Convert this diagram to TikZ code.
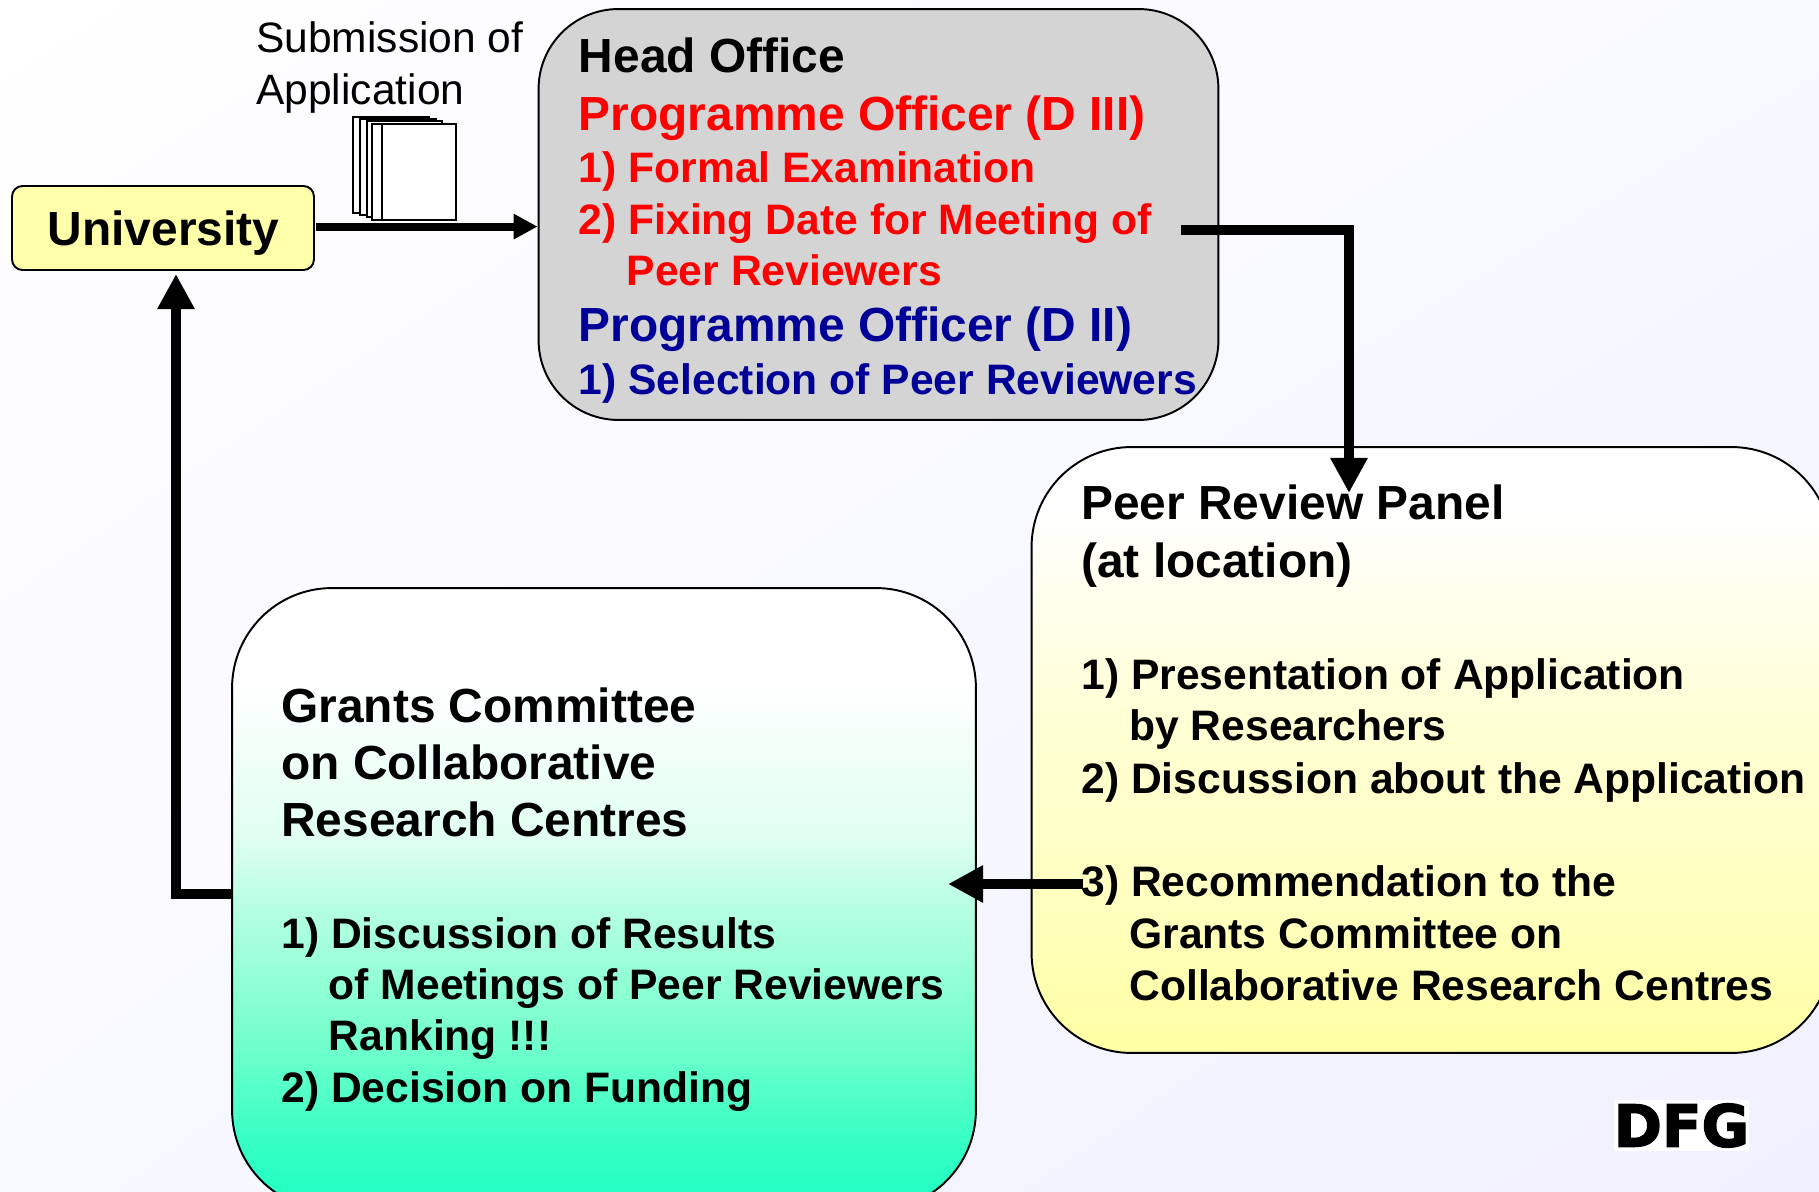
\documentclass[tikz,border=0pt]{standalone}
\usepackage{fontspec}
\setmainfont{Liberation Sans}
\newfontfamily\logofont[FakeBold=2.5]{DejaVu Sans Bold}
\usetikzlibrary{arrows.meta,shadings}
\definecolor{officered}{RGB}{255,0,0}
\definecolor{officeblue}{RGB}{0,0,153}
\definecolor{boxyellow}{RGB}{255,255,170}
\definecolor{boxgrey}{RGB}{212,212,212}
\definecolor{backmid}{RGB}{248,248,255}
\definecolor{backend}{RGB}{240,240,255}
\pgfdeclareverticalshading{grantsfade}{100bp}{
	rgb(0bp)=(0.118,1,0.765); rgb(25bp)=(0.118,1,0.765); rgb(30bp)=(0.196,1,0.765);
	rgb(40bp)=(0.49,1,0.804); rgb(49bp)=(0.706,1,0.882); rgb(55bp)=(0.878,1,0.941);
	rgb(67.5bp)=(1,1,1); rgb(100bp)=(1,1,1)}
\pgfdeclareverticalshading{peerfade}{100bp}{
	rgb(0bp)=(1,1,0.64); rgb(25bp)=(1,1,0.64); rgb(37.5bp)=(1,1,0.75);
	rgb(52.5bp)=(1,1,0.835); rgb(70bp)=(1,1,1); rgb(100bp)=(1,1,1)}
\begin{document}
\begin{tikzpicture}[x=0.02cm,y=-0.02cm,
		main box/.style={draw=black,line width=1.1pt,inner sep=0pt},
		big line/.style={anchor=base west,inner sep=0pt,font=\bfseries\fontsize{27.25}{30}\selectfont},
		small line/.style={anchor=base west,inner sep=0pt,font=\bfseries\fontsize{24.25}{28}\selectfont},
		plain line/.style={anchor=base west,inner sep=0pt,font=\fontsize{24.2}{28}\selectfont},
		thin flow/.style={line width=4.5pt,-{Triangle[length=13.6pt,width=13.6pt]}},
		thick flow/.style={line width=6pt,-{Triangle[length=20pt,width=20pt]}},
		page/.style={draw=black,fill=white,line width=0.9pt}]

		\useasboundingbox (0,0) rectangle (1819,1192);
		\clip (0,0) rectangle (1819,1192);
		\shade[upper left=white,upper right=backmid,lower left=backmid,lower right=backend] (0,0) rectangle (1819,1192);

		% boxes
		\node[main box,fill=boxyellow,rounded corners=6pt,minimum width=6.04cm,minimum height=1.68cm] (uni) at (163,228) {};
		\node[main box,fill=boxgrey,rounded corners=1.6cm,minimum width=13.6cm,minimum height=8.22cm] (head) at (878.5,214.5) {};
		\node[main box,shading=peerfade,rounded corners=2cm,minimum width=16cm,minimum height=12.12cm] (peer) at (1431.5,750) {};
		\node[main box,shading=grantsfade,rounded corners=2cm,minimum width=14.88cm,minimum height=12.44cm] (grants) at (604,899) {};

		% stack of pages
		\foreach \px/\py/\qx/\qy in {353/117/429/213,360/119/436/215,367/121/442/217,372/124/456/220,382/124/456/220}
			\draw[page] (\px,\py) rectangle (\qx,\qy);

		% free ends
		\coordinate (headout) at (1181,230);
		\coordinate (peerin) at (1349,493);
		\coordinate (peerout) at (1083,884);
		\coordinate (grantsin) at (948,884);
		\coordinate (grantsout) at (232,894);
		\coordinate (uniin) at (176,274);

		\draw[thin flow] ([shift={(0.6pt,0.8pt)}]uni.east) -- ([yshift=0.8pt]uni.east -| head.west);
		\draw[thick flow] (headout) -| (peerin);
		\draw[thick flow] (peerout) -- (grantsin);
		\draw[thick flow] (grantsout) -| (uniin);

		% texts
		\node[big line] (unilabel) at (47.5,246) {University};

		\node[plain line] (sub1) at (256,53) {Submission of};
		\node[plain line] (sub2) at (256,105) {Application};

		\node[big line] (h1) at (578.5,73) {Head Office};
		\node[big line,text=officered] (h2) at (578.5,131) {Programme Officer (D III)};
		\node[small line,text=officered] (h3) at (578.5,183) {1) Formal Examination};
		\node[small line,text=officered] (h4) at (578.5,235) {2) Fixing Date for Meeting of};
		\node[small line,text=officered] (h5) at (626.5,285.5) {Peer Reviewers};
		\node[big line,text=officeblue] (h6) at (578.5,342) {Programme Officer (D II)};
		\node[small line,text=officeblue] (h7) at (578.5,395) {1) Selection of Peer Reviewers};

		\node[big line] (p1) at (1081,520) {Peer Review Panel};
		\node[big line] (p2) at (1081,578) {(at location)};
		\node[small line] (p3) at (1081,689) {1) Presentation of Application};
		\node[small line] (p4) at (1129,740) {by Researchers};
		\node[small line] (p5) at (1081,793) {2) Discussion about the Application};
		\node[small line] (p6) at (1081,896) {3) Recommendation to the};
		\node[small line] (p7) at (1129,948) {Grants Committee on};
		\node[small line] (p8) at (1129,1000) {Collaborative Research Centres};

		\node[big line] (g1) at (281,722) {Grants Committee};
		\node[big line] (g2) at (281,779.5) {on Collaborative};
		\node[big line] (g3) at (281,836.5) {Research Centres};
		\node[small line] (g4) at (281,948) {1) Discussion of Results};
		\node[small line] (g5) at (328.5,999) {of Meetings of Peer Reviewers};
		\node[small line] (g6) at (328.5,1050) {Ranking !!!};
		\node[small line] (g7) at (281,1102) {2) Decision on Funding};

		% logo
		\node[fill=white,minimum width=2.7cm,minimum height=1.02cm,inner sep=0pt] (dfg) at (1681.5,1125.5) {};
		\node[inner sep=0pt,font=\logofont\fontsize{33}{36}\selectfont] (dfglabel) at (1681.5,1125.5) {DFG};
\end{tikzpicture}
\end{document}
